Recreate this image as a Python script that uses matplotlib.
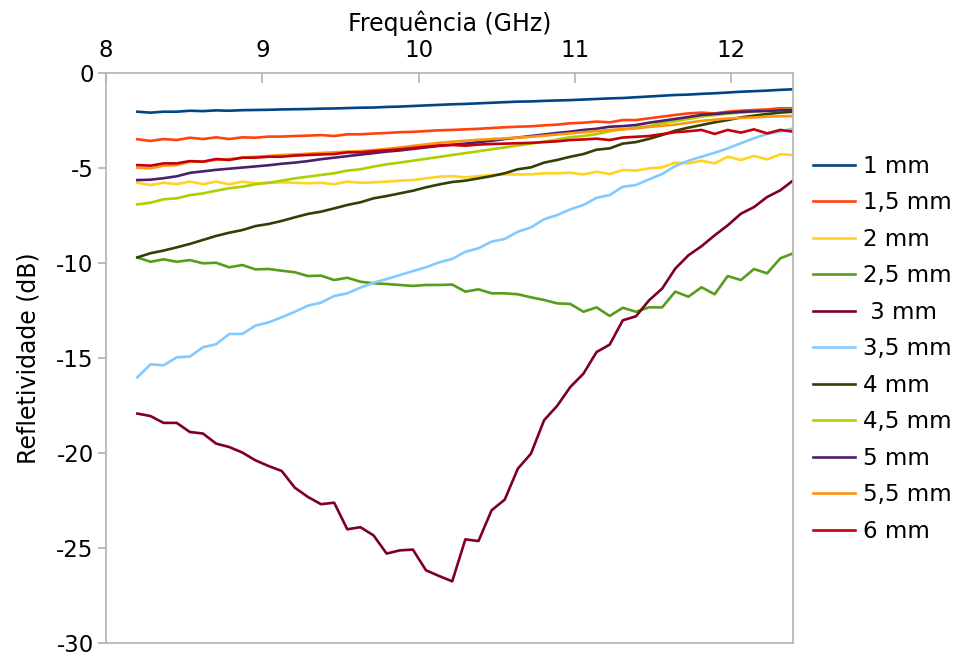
import numpy as np
import matplotlib
matplotlib.use("Agg")
import matplotlib.pyplot as plt

plt.rcParams['font.family'] = ['DejaVu Sans']
plt.rcParams['axes.unicode_minus'] = False

freq = np.linspace(8.2, 12.4, 51)

r_1mm = [-2.02, -2.07, -2.02, -2.02, -1.97, -1.99, -1.95, -1.97, -1.94, -1.93,
         -1.92, -1.90, -1.89, -1.88, -1.86, -1.85, -1.83, -1.81, -1.80, -1.77,
         -1.75, -1.72, -1.69, -1.66, -1.63, -1.61, -1.58, -1.55, -1.52, -1.49,
         -1.48, -1.45, -1.43, -1.41, -1.38, -1.35, -1.32, -1.30, -1.26, -1.22,
         -1.18, -1.14, -1.12, -1.08, -1.05, -1.01, -0.97, -0.94, -0.91, -0.87, -0.84]
r_1_5mm = [-3.47, -3.56, -3.46, -3.51, -3.39, -3.46, -3.37, -3.46, -3.37, -3.39,
           -3.33, -3.33, -3.30, -3.28, -3.25, -3.30, -3.21, -3.21, -3.17, -3.14,
           -3.10, -3.08, -3.04, -3.00, -2.98, -2.95, -2.92, -2.88, -2.84, -2.81,
           -2.79, -2.74, -2.70, -2.63, -2.60, -2.54, -2.58, -2.46, -2.46, -2.37,
           -2.28, -2.19, -2.11, -2.07, -2.11, -2.02, -1.97, -1.93, -1.90, -1.84, -1.84]
r_2mm = [-5.76, -5.88, -5.76, -5.83, -5.70, -5.83, -5.70, -5.84, -5.70, -5.79,
         -5.76, -5.74, -5.76, -5.79, -5.76, -5.84, -5.70, -5.76, -5.74, -5.70,
         -5.65, -5.62, -5.53, -5.44, -5.41, -5.48, -5.41, -5.35, -5.32, -5.32,
         -5.32, -5.26, -5.26, -5.23, -5.32, -5.18, -5.30, -5.09, -5.12, -5.00,
         -4.95, -4.70, -4.74, -4.60, -4.74, -4.39, -4.56, -4.35, -4.53, -4.26, -4.30]
r_2_5mm = [-9.69, -9.92, -9.79, -9.92, -9.83, -10.00, -9.97, -10.21, -10.09, -10.32,
           -10.30, -10.39, -10.47, -10.67, -10.65, -10.88, -10.76, -10.97, -11.05, -11.09,
           -11.14, -11.19, -11.14, -11.14, -11.12, -11.49, -11.37, -11.58, -11.58, -11.63,
           -11.79, -11.93, -12.11, -12.14, -12.55, -12.32, -12.77, -12.34, -12.55, -12.32,
           -12.32, -11.49, -11.76, -11.26, -11.63, -10.67, -10.88, -10.30, -10.53, -9.74, -9.47]
r_3mm = [-17.91, -18.04, -18.40, -18.40, -18.88, -18.96, -19.49, -19.67, -19.96, -20.37,
         -20.67, -20.93, -21.81, -22.30, -22.68, -22.60, -24.00, -23.89, -24.32, -25.28,
         -25.11, -25.07, -26.16, -26.46, -26.74, -24.53, -24.62, -23.00, -22.44, -20.81,
         -20.02, -18.26, -17.50, -16.51, -15.81, -14.67, -14.28, -13.00, -12.79, -11.95,
         -11.33, -10.28, -9.58, -9.10, -8.53, -8.00, -7.39, -7.04, -6.51, -6.16, -5.63]
r_3_5mm = [-16.00, -15.32, -15.37, -14.95, -14.91, -14.42, -14.26, -13.72, -13.72, -13.28,
           -13.11, -12.84, -12.55, -12.23, -12.07, -11.72, -11.58, -11.28, -11.02, -10.83,
           -10.62, -10.41, -10.21, -9.95, -9.77, -9.39, -9.21, -8.86, -8.72, -8.34,
           -8.11, -7.68, -7.46, -7.16, -6.93, -6.55, -6.41, -5.97, -5.88, -5.58,
           -5.30, -4.88, -4.60, -4.39, -4.18, -3.95, -3.68, -3.42, -3.19, -3.07, -2.90]
r_4mm = [-9.69, -9.47, -9.33, -9.16, -8.98, -8.77, -8.56, -8.39, -8.25, -8.04,
         -7.93, -7.77, -7.58, -7.40, -7.28, -7.11, -6.93, -6.79, -6.58, -6.46,
         -6.32, -6.18, -6.00, -5.85, -5.72, -5.65, -5.53, -5.41, -5.26, -5.05,
         -4.95, -4.70, -4.56, -4.39, -4.25, -4.02, -3.95, -3.70, -3.62, -3.45,
         -3.25, -3.02, -2.86, -2.72, -2.58, -2.46, -2.32, -2.23, -2.14, -2.07, -2.02]
r_4_5mm = [-6.90, -6.81, -6.63, -6.58, -6.41, -6.32, -6.18, -6.05, -5.97, -5.84,
           -5.76, -5.65, -5.53, -5.44, -5.35, -5.26, -5.12, -5.05, -4.91, -4.79,
           -4.70, -4.60, -4.50, -4.40, -4.30, -4.20, -4.10, -4.00, -3.90, -3.80,
           -3.70, -3.60, -3.48, -3.36, -3.30, -3.20, -3.05, -2.95, -2.86, -2.78,
           -2.62, -2.52, -2.40, -2.28, -2.20, -2.12, -2.07, -2.02, -1.97, -1.93, -1.90]
r_5mm = [-5.62, -5.60, -5.52, -5.42, -5.24, -5.16, -5.08, -5.02, -4.96, -4.90,
         -4.84, -4.76, -4.70, -4.62, -4.52, -4.44, -4.36, -4.28, -4.20, -4.12,
         -4.06, -3.98, -3.90, -3.82, -3.76, -3.70, -3.62, -3.55, -3.46, -3.38,
         -3.30, -3.22, -3.14, -3.07, -2.98, -2.92, -2.81, -2.78, -2.72, -2.60,
         -2.50, -2.40, -2.30, -2.19, -2.14, -2.08, -2.03, -2.00, -1.98, -1.95, -1.93]
r_5_5mm = [-4.97, -5.00, -4.86, -4.83, -4.65, -4.65, -4.56, -4.51, -4.44, -4.39,
           -4.35, -4.30, -4.27, -4.23, -4.19, -4.16, -4.12, -4.09, -4.04, -3.98,
           -3.90, -3.82, -3.74, -3.66, -3.60, -3.55, -3.50, -3.46, -3.42, -3.38,
           -3.34, -3.28, -3.22, -3.16, -3.10, -3.04, -2.98, -2.94, -2.90, -2.82,
           -2.76, -2.70, -2.60, -2.50, -2.44, -2.38, -2.35, -2.32, -2.28, -2.26, -2.25]
r_6mm = [-4.83, -4.86, -4.74, -4.74, -4.62, -4.65, -4.51, -4.56, -4.44, -4.44,
         -4.39, -4.39, -4.33, -4.30, -4.27, -4.25, -4.16, -4.16, -4.10, -4.05,
         -4.00, -3.93, -3.86, -3.80, -3.77, -3.81, -3.75, -3.72, -3.70, -3.68,
         -3.66, -3.62, -3.58, -3.51, -3.48, -3.44, -3.51, -3.38, -3.34, -3.30,
         -3.20, -3.10, -3.05, -2.98, -3.19, -2.98, -3.12, -2.95, -3.16, -2.98, -3.07]

labels = ["1 mm", "1,5 mm", "2 mm", "2,5 mm", " 3 mm", "3,5 mm",
          "4 mm", "4,5 mm", "5 mm", "5,5 mm", "6 mm"]
series = [r_1mm, r_1_5mm, r_2mm, r_2_5mm, r_3mm, r_3_5mm,
          r_4mm, r_4_5mm, r_5mm, r_5_5mm, r_6mm]
colors = ["#004586", "#ff420e", "#ffd320", "#579d1c", "#7e0021", "#83caff",
          "#314004", "#aecf00", "#4b1f6f", "#ff950e", "#c5000b"]

xticks = [8, 9, 10, 11, 12]
yticks = [0, -5, -10, -15, -20, -25, -30]

fig = plt.figure(figsize=(9.57, 6.57), dpi=100)
ax = fig.add_axes([0.1109, 0.0209, 0.829 - 0.1109, 0.8884 - 0.0209])

for y, lab, c in zip(series, labels, colors):
    ax.plot(freq, y, color=c, lw=1.9, label=lab)

ax.set_xlim(8, 12.4)
ax.set_ylim(-30, 0)
ax.xaxis.tick_top()
ax.xaxis.set_label_position('top')
ax.set_xticks(xticks)
ax.set_yticks(yticks)
ax.set_yticklabels([str(v) for v in yticks])
for s in ax.spines.values():
    s.set_color('#b3b3b3')
    s.set_linewidth(1.2)
ax.tick_params(axis='x', direction='in', length=7, color='#b3b3b3', width=1.2,
               labelsize=16.5, pad=8)
ax.tick_params(axis='y', direction='out', length=6, color='#b3b3b3', width=1.2,
               labelsize=16.5, pad=3)
ax.set_xlabel('Frequência (GHz)', fontsize=17, labelpad=6)
ax.set_ylabel('Refletividade (dB)', fontsize=17, labelpad=11)

fig.legend(loc='upper left', bbox_to_anchor=(0.8495, 0.7644), frameon=False,
           fontsize=16.5, handlelength=1.85, handletextpad=0.35,
           labelspacing=0.59, borderpad=0, borderaxespad=0)

fig.savefig('out.png', dpi=100)
